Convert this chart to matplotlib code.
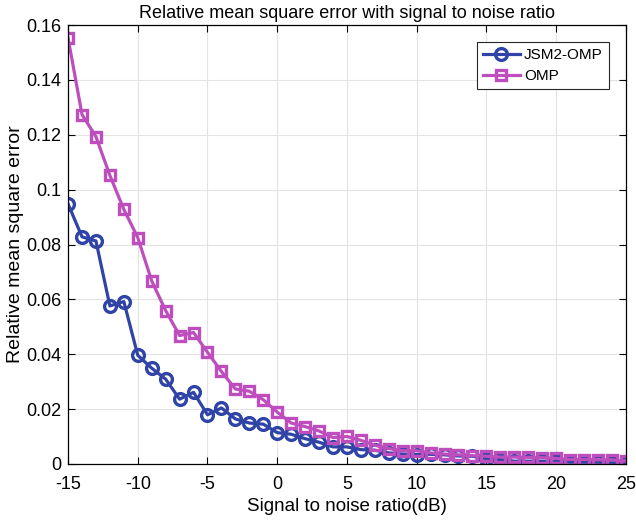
import matplotlib
matplotlib.use('Agg')
import matplotlib.pyplot as plt
import numpy as np

snr = list(range(-15, 26))

jsm2_omp = [0.0948, 0.0828, 0.0813, 0.0576, 0.0592, 0.0396, 0.0349, 0.0309, 0.0236, 0.0261,
            0.0179, 0.0204, 0.0164, 0.0149, 0.0145, 0.0114, 0.0108, 0.0092, 0.0079, 0.0062,
            0.0062, 0.0052, 0.0050, 0.0040, 0.0036, 0.0034, 0.0035, 0.0033, 0.0029, 0.0028,
            0.0019, 0.0016, 0.0010, 0.0010, 0.0010, 0.0009, 0.0006, 0.0006, 0.0006, 0.0004,
            0.0004]
omp = [0.1553, 0.1274, 0.1193, 0.1052, 0.0928, 0.0825, 0.0667, 0.0559, 0.0468, 0.0479,
       0.0407, 0.0337, 0.0273, 0.0265, 0.0234, 0.0189, 0.0149, 0.0136, 0.0120, 0.0096,
       0.0100, 0.0086, 0.0068, 0.0056, 0.0048, 0.0048, 0.0040, 0.0036, 0.0033, 0.0030,
       0.0028, 0.0025, 0.0025, 0.0024, 0.0023, 0.0020, 0.0016, 0.0016, 0.0015, 0.0015,
       0.0010]
ytick_labels = ['0', '0.02', '0.04', '0.06', '0.08', '0.1', '0.12', '0.14', '0.16']

plt.rcParams['font.family'] = ['Liberation Sans', 'DejaVu Sans']
plt.rcParams['axes.unicode_minus'] = False

fig = plt.figure(figsize=(6.36, 5.23), dpi=100)
ax = fig.add_axes([0.107, 0.113, 0.877, 0.839])

ax.plot(snr, jsm2_omp, color='#2F44A6', lw=2.3, marker='o', ms=8.5, mew=2.4,
        mfc='none', label='JSM2-OMP')
ax.plot(snr, omp, color='#BE4DBE', lw=2.3, marker='s', ms=7.5, mew=2.4,
        mfc='none', label='OMP')

ax.set_xlim(-15, 25)
ax.set_ylim(0, 0.16)
ax.set_xticks(np.arange(-15, 26, 5))
ax.set_yticks(np.arange(0, 0.161, 0.02))
ax.set_yticklabels(ytick_labels)
ax.tick_params(direction='in', labelsize=13, top=True, right=True, length=5, width=0.8)
ax.tick_params(axis='x', pad=9)
ax.tick_params(axis='y', pad=5)
ax.grid(True, color='#e3e3e3', lw=0.8)
for s in ax.spines.values():
    s.set_linewidth(0.9)

ax.set_title('Relative mean square error with signal to noise ratio', fontsize=13, pad=5)
ax.set_xlabel('Signal to noise ratio(dB)', fontsize=13.5, labelpad=3)
ax.set_ylabel('Relative mean square error', fontsize=14, labelpad=1)

leg = ax.legend(loc='upper right', fontsize=11, fancybox=False, edgecolor='#262626',
                framealpha=1, handlelength=2.4, handletextpad=0.3, borderpad=0.4,
                borderaxespad=1.1, labelspacing=0.45)
leg.get_frame().set_linewidth(0.8)

fig.savefig('out.png', dpi=100)
